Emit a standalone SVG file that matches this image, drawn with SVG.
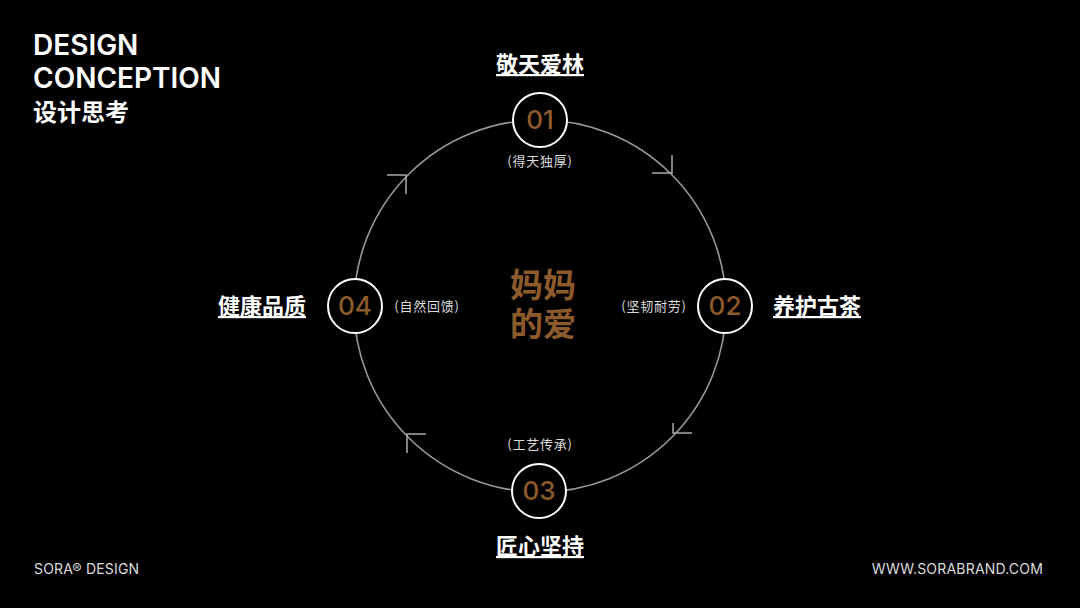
<svg xmlns="http://www.w3.org/2000/svg" width="1080" height="608" viewBox="0 0 1080 608">
<style>
.hd{font-family:"Inter","Noto Sans CJK SC",sans-serif;font-weight:600;fill:#fff}
.lbl{font-family:"Noto Sans CJK SC",sans-serif;font-weight:700;font-size:22px;fill:#fff;text-anchor:middle;text-decoration:underline}
.sub{font-family:"Noto Sans CJK SC",sans-serif;font-size:13px;letter-spacing:0.8px;fill:#ddd;text-anchor:middle}
.num{font-family:"Inter","Noto Sans",sans-serif;font-weight:500;font-size:26px;fill:#8d5a2b;text-anchor:middle}
.nc{fill:#000;stroke:#fff;stroke-width:2}
.ar{fill:none;stroke:#aaa;stroke-width:1.5}
.ft{font-family:"Inter","Noto Sans",sans-serif;font-size:14px;letter-spacing:0.2px;fill:#ddd}
.ctr{font-family:"Noto Sans CJK SC",sans-serif;font-weight:700;font-size:33px;fill:#8d5a2b;text-anchor:middle}
</style>
<rect width="1080" height="608" fill="#000"/>
<g id="title">
<text class="hd" x="33" y="55" font-size="28">DESIGN</text>
<text class="hd" x="33" y="88" font-size="28">CONCEPTION</text>
<text class="hd" x="33" y="121" font-size="24" font-family="Noto Sans CJK SC" font-weight="700">设计思考</text>
</g>
<g id="connectors">
<circle cx="540" cy="306" r="186" fill="none" stroke="#999" stroke-width="1.6"/>
<path class="ar" d="M387 175H406V194"/>
<path class="ar" d="M652 173H672V155"/>
<path class="ar" d="M426 434H407V453"/>
<path class="ar" d="M692 433H673V423"/>
</g>
<g id="center">
<text class="ctr" x="543"><tspan x="543" y="297">妈妈</tspan><tspan x="543" y="336">的爱</tspan></text>
</g>
<g id="node01">
<circle class="nc" cx="540" cy="120" r="27"/>
<text class="num" x="540" y="129">01</text>
<text class="lbl" x="540" y="72">敬天爱林</text>
<text class="sub" x="540" y="166">(得天独厚)</text>
</g>
<g id="node02">
<circle class="nc" cx="725" cy="306" r="27"/>
<text class="num" x="725" y="315">02</text>
<text class="lbl" x="817" y="314">养护古茶</text>
<text class="sub" x="654" y="311">(坚韧耐劳)</text>
</g>
<g id="node03">
<circle class="nc" cx="539" cy="491" r="27"/>
<text class="num" x="539" y="500">03</text>
<text class="lbl" x="540" y="554">匠心坚持</text>
<text class="sub" x="540" y="449">(工艺传承)</text>
</g>
<g id="node04">
<circle class="nc" cx="355" cy="306" r="27"/>
<text class="num" x="355" y="315">04</text>
<text class="lbl" x="262" y="314">健康品质</text>
<text class="sub" x="427" y="311">(自然回馈)</text>
</g>
<g id="footer">
<text class="ft" x="34" y="574">SORA® DESIGN</text>
<text class="ft" x="1043" y="574" text-anchor="end">WWW.SORABRAND.COM</text>
</g>
</svg>
